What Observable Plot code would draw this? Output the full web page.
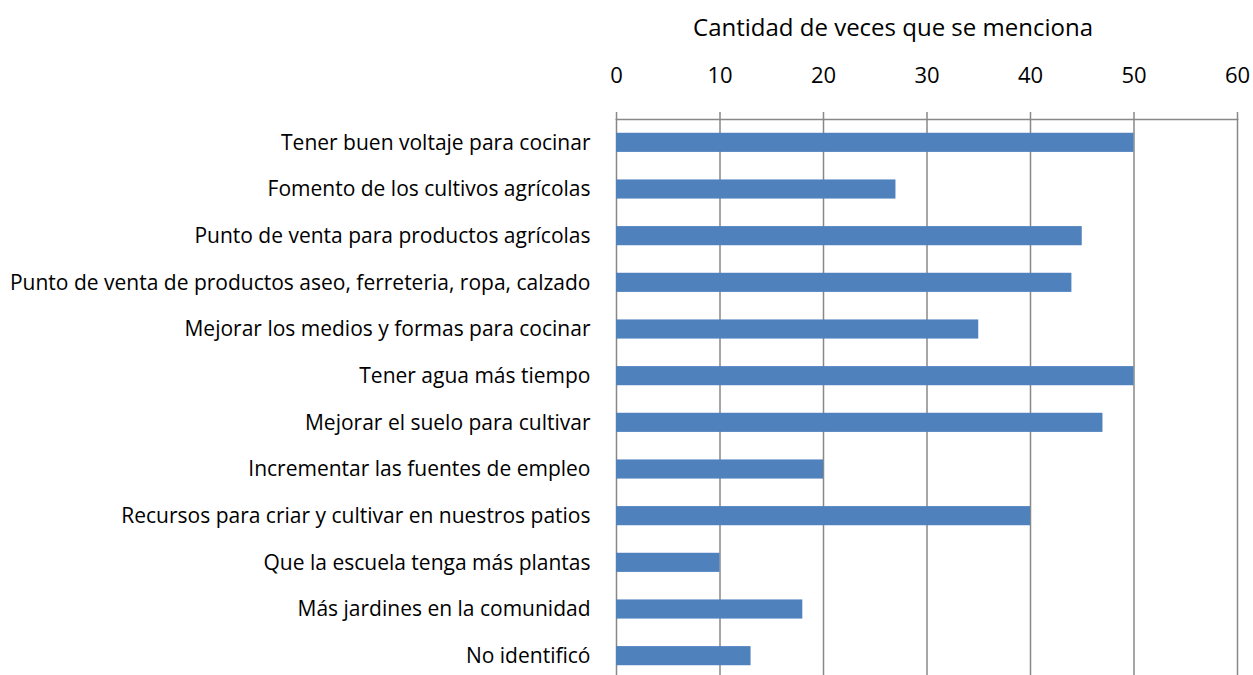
<!DOCTYPE html>
<html>
<head>
<meta charset="utf-8">
<script src="https://cdn.jsdelivr.net/npm/d3@7"></script>
<script src="https://cdn.jsdelivr.net/npm/@observablehq/plot@0.6"></script>
<style>
  html, body { margin: 0; padding: 0; background: #fff; }
  #chart svg { display: block; }
</style>
</head>
<body>
<div id="chart"></div>
<script>
const categories = [
  "Tener buen voltaje para cocinar",
  "Fomento de los cultivos agrícolas",
  "Punto de venta para productos agrícolas",
  "Punto de venta de productos aseo, ferreteria, ropa, calzado",
  "Mejorar los medios y formas para cocinar",
  "Tener agua más tiempo",
  "Mejorar el suelo para cultivar",
  "Incrementar las fuentes de empleo",
  "Recursos para criar y cultivar en nuestros patios",
  "Que la escuela tenga más plantas",
  "Más jardines en la comunidad",
  "No identificó"
];
const values = [50, 27, 45, 44, 35, 50, 47, 20, 40, 10, 18, 13];
const xTicks = [0, 10, 20, 30, 40, 50, 60];
const axisTitle = "Cantidad de veces que se menciona";

const data = categories.map((c, i) => ({category: c, value: values[i]}));

const chart = Plot.plot({
  width: 1253,
  height: 675,
  marginTop: 119,
  marginBottom: 0,
  marginLeft: 616,
  marginRight: 16,
  style: {fontFamily: "'Open Sans', sans-serif", background: "#fff", color: "#000"},
  x: {domain: [0, 60], ticks: xTicks},
  y: {domain: categories, range: [119, 679], round: false, paddingInner: 0.59, paddingOuter: 0.295, axis: null},
  marks: [
    Plot.gridX(xTicks, {stroke: "#888", strokeOpacity: 1, strokeWidth: 1.5}),
    Plot.barX(data, {y: "category", x: "value", fill: "#4F81BD"}),
    Plot.frame({anchor: "top", stroke: "#888", strokeWidth: 1.5}),
    Plot.axisX(xTicks, {
      anchor: "top", tickSize: 8, tickPadding: 29, fontSize: 22, stroke: "#888", strokeWidth: 1.5,
      label: null
    }),
    Plot.text([axisTitle], {frameAnchor: "top", lineAnchor: "middle", dy: -91, dx: -34, fontSize: 24, fill: "#000"}),
    Plot.axisY(categories, {
      anchor: "left", tickSize: 0, tickPadding: 26, fontSize: 21, label: null
    })
  ]
});
document.getElementById("chart").appendChild(chart);
</script>
</body>
</html>
